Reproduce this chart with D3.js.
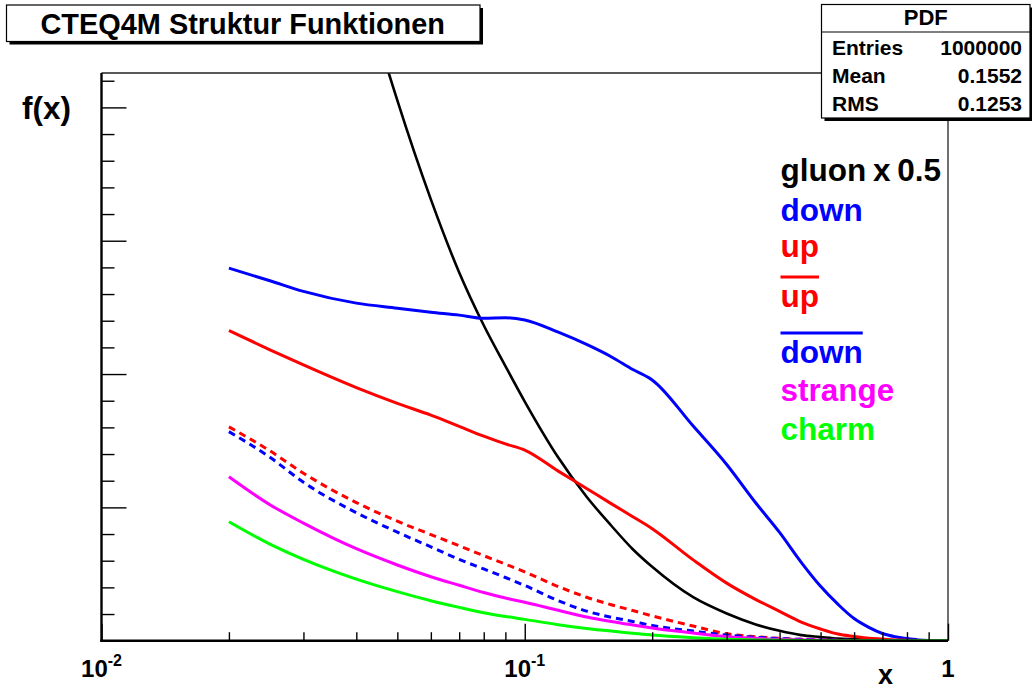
<!DOCTYPE html>
<html>
<head>
<meta charset="utf-8">
<script src="https://cdn.jsdelivr.net/npm/d3@7"></script>
<style>
  body { margin: 0; background: #fff; }
  svg { display: block; }
  text { font-family: "Liberation Sans", Arial, Helvetica, sans-serif; font-weight: bold; }
</style>
</head>
<body>
<svg id="chart" width="1032" height="688"></svg>
<script>
// Momentum fraction grid shared by all distributions
const xValues = [0.02, 0.025, 0.03, 0.04, 0.05, 0.06, 0.07, 0.08, 0.09, 0.1,
                 0.12, 0.14, 0.16, 0.18, 0.2, 0.25, 0.3, 0.35, 0.4, 0.45,
                 0.5, 0.55, 0.6, 0.65, 0.7, 0.75, 0.8, 0.85, 0.9, 0.95, 1.0];

// x*f(x) for each parton (gluon scaled by 0.5)
const gluonHalf = [4.89, 4.05, 3.43, 2.55, 2.026, 1.655, 1.381, 1.183, 1.030, 0.897,
                   0.687, 0.540, 0.432, 0.343, 0.277, 0.163, 0.102, 0.062, 0.037, 0.021,
                   0.014, 0.008, 0.006, 0.004, 0.002, 0.001, 0, 0, 0, 0, 0];
const down      = [1.397, 1.350, 1.310, 1.266, 1.247, 1.232, 1.221, 1.209, 1.211, 1.203,
                   1.157, 1.111, 1.065, 1.017, 0.978, 0.805, 0.661, 0.520, 0.406, 0.294,
                   0.204, 0.136, 0.083, 0.050, 0.027, 0.015, 0.008, 0.003, 0.001, 0.0005, 0];
const up        = [1.163, 1.091, 1.034, 0.949, 0.890, 0.846, 0.804, 0.767, 0.738, 0.715,
                   0.636, 0.571, 0.514, 0.465, 0.420, 0.303, 0.216, 0.156, 0.110, 0.070,
                   0.044, 0.025, 0.016, 0.009, 0.006, 0.003, 0.002, 0.001, 0, 0, 0];
const upBar     = [0.802, 0.712, 0.628, 0.518, 0.448, 0.398, 0.356, 0.319, 0.287, 0.258,
                   0.203, 0.163, 0.135, 0.113, 0.093, 0.055, 0.026, 0.015, 0.009, 0.005,
                   0.003, 0.002, 0.001, 0, 0, 0, 0, 0, 0, 0, 0];
const downBar   = [0.784, 0.688, 0.594, 0.480, 0.407, 0.352, 0.305, 0.269, 0.237, 0.207,
                   0.150, 0.111, 0.088, 0.072, 0.057, 0.036, 0.021, 0.013, 0.008, 0.005,
                   0.003, 0.002, 0.001, 0, 0, 0, 0, 0, 0, 0, 0];
const strange   = [0.615, 0.510, 0.441, 0.345, 0.284, 0.240, 0.208, 0.181, 0.160, 0.144,
                   0.114, 0.089, 0.072, 0.059, 0.048, 0.029, 0.015, 0.009, 0.005, 0.003,
                   0.002, 0.001, 0, 0, 0, 0, 0, 0, 0, 0, 0];
const charm     = [0.446, 0.362, 0.305, 0.231, 0.184, 0.150, 0.125, 0.105, 0.091, 0.080,
                   0.060, 0.046, 0.036, 0.028, 0.021, 0.011, 0.005, 0.003, 0.002, 0.001,
                   0, 0, 0, 0, 0, 0, 0, 0, 0, 0, 0];

const seriesNames    = ["gluon x 0.5", "down", "up", "up", "down", "strange", "charm"];
const seriesColors   = ["#000000", "#0000ff", "#ff0000", "#ff0000", "#0000ff", "#ff00ff", "#00ff00"];
const seriesDashed   = [false, false, false, true, true, false, false];
const seriesOverline = [false, false, false, true, true, false, false];

// Axis labels
const xTickValues = [0.01, 0.1, 1];
const xTickBase   = ["10", "10", "1"];
const xTickExp    = ["-2", "-1", ""];
const titleText   = "CTEQ4M Struktur Funktionen";
const yTitle      = "f(x)";
const xTitle      = "x";

// Statistics box
const statsTitle  = "PDF";
const statsLabels = ["Entries", "Mean", "RMS"];
const statsValues = ["1000000", "0.1552", "0.1253"];

const svg = d3.select("#chart");
const frame = { left: 101.5, right: 948, top: 73, bottom: 640.7 };

const x = d3.scaleLog().domain([0.01, 1]).range([frame.left, frame.right]);
const y = d3.scaleLinear().domain([0, 2.129]).range([frame.bottom, frame.top]);

svg.append("rect").attr("width", 1032).attr("height", 688).attr("fill", "#fff");

// Clip region for the curves
svg.append("clipPath").attr("id", "plotClip")
  .append("rect")
  .attr("x", frame.left).attr("y", frame.top)
  .attr("width", frame.right - frame.left).attr("height", frame.bottom - frame.top);

const series = [gluonHalf, down, up, upBar, downBar, strange, charm];
const lineGen = d3.line()
  .x((d, i) => x(xValues[i]))
  .y(d => y(d))
  .curve(d3.curveMonotoneX);

const curves = svg.append("g").attr("clip-path", "url(#plotClip)");
series.forEach((vals, k) => {
  curves.append("path")
    .attr("d", lineGen(vals))
    .attr("fill", "none")
    .attr("stroke", seriesColors[k])
    .attr("stroke-width", k === 0 ? 2.6 : 3)
    .attr("stroke-dasharray", seriesDashed[k] ? "7,5" : null)
    .attr("stroke-linejoin", "round");
});

// Frame: top and right edges
svg.append("line").attr("x1", frame.left).attr("x2", frame.right)
  .attr("y1", frame.top).attr("y2", frame.top)
  .attr("stroke", "#222").attr("stroke-width", 1.3);
svg.append("line").attr("x1", frame.right).attr("x2", frame.right)
  .attr("y1", frame.top).attr("y2", frame.bottom)
  .attr("stroke", "#222").attr("stroke-width", 1.3);

// x axis ticks (pointing into the frame)
const xMinor = [];
[0.01, 0.1].forEach(dec => { for (let m = 2; m <= 9; m++) xMinor.push(dec * m); });
const xAxisMinor = d3.axisBottom(x).tickValues(xMinor).tickSizeInner(-8.5).tickSizeOuter(0).tickFormat("");
const xAxisMajor = d3.axisBottom(x).tickValues(xTickValues).tickSizeInner(-17).tickSizeOuter(0).tickFormat("");
[xAxisMinor, xAxisMajor].forEach(ax => {
  const g = svg.append("g").attr("transform", `translate(0,${frame.bottom})`).call(ax);
  g.select(".domain").remove();
  g.selectAll(".tick line").attr("stroke", "#000").attr("stroke-width", 1.4);
});

// y axis ticks (pointing into the frame)
const yMinor = d3.range(1, 22).map(i => i * 0.1).filter(v => Math.abs(v * 2 - Math.round(v * 2)) > 1e-6);
const yMajor = [0.5, 1.0, 1.5, 2.0];
const yAxisMinor = d3.axisLeft(y).tickValues(yMinor).tickSizeInner(-13).tickSizeOuter(0).tickFormat("");
const yAxisMajor = d3.axisLeft(y).tickValues(yMajor).tickSizeInner(-25).tickSizeOuter(0).tickFormat("");
[yAxisMinor, yAxisMajor].forEach(ax => {
  const g = svg.append("g").attr("transform", `translate(${frame.left},0)`).call(ax);
  g.select(".domain").remove();
  g.selectAll(".tick line").attr("stroke", "#000").attr("stroke-width", 1.4);
});

// Axis lines
svg.append("line").attr("x1", frame.left).attr("x2", frame.left)
  .attr("y1", frame.top).attr("y2", frame.bottom + 1.2)
  .attr("stroke", "#000").attr("stroke-width", 2.4);
svg.append("line").attr("x1", frame.left - 1.2).attr("x2", frame.right)
  .attr("y1", frame.bottom).attr("y2", frame.bottom)
  .attr("stroke", "#000").attr("stroke-width", 2.4);

// x tick labels with exponents
xTickValues.forEach((v, i) => {
  const t = svg.append("text")
    .attr("x", x(v)).attr("y", 677)
    .attr("text-anchor", "middle")
    .attr("font-size", 24)
    .attr("fill", "#000");
  t.append("tspan").text(xTickBase[i]);
  if (xTickExp[i]) {
    t.append("tspan").attr("dy", -11).attr("font-size", 16).text(xTickExp[i]);
  }
});

// Axis titles
svg.append("text").attr("x", 878).attr("y", 683.5)
  .attr("font-size", 27).attr("fill", "#000").text(xTitle);
svg.append("text").attr("x", 22).attr("y", 119)
  .attr("font-size", 31.5).attr("fill", "#000").text(yTitle);

// Legend labels
const legendX = 780.5;
const legendBaselines = [181, 221, 257, 307, 363, 401, 440];
seriesNames.forEach((name, k) => {
  const t = svg.append("text")
    .attr("x", legendX).attr("y", legendBaselines[k])
    .attr("font-size", 31.5)
    .attr("word-spacing", -2)
    .attr("fill", seriesColors[k])
    .text(name);
  if (seriesOverline[k]) {
    const w = t.node().getComputedTextLength();
    svg.append("line")
      .attr("x1", legendX).attr("x2", legendX + w)
      .attr("y1", legendBaselines[k] - 30).attr("y2", legendBaselines[k] - 30)
      .attr("stroke", seriesColors[k]).attr("stroke-width", 2.8);
  }
});

// Title box with drop shadow
const tb = { x: 6.5, y: 5, w: 473.5, h: 36.5 };
svg.append("rect").attr("x", tb.x + 3).attr("y", tb.y + 3).attr("width", tb.w).attr("height", tb.h).attr("fill", "#000");
svg.append("rect").attr("x", tb.x).attr("y", tb.y).attr("width", tb.w).attr("height", tb.h)
  .attr("fill", "#fff").attr("stroke", "#000").attr("stroke-width", 1.2);
svg.append("text").attr("x", tb.x + tb.w / 2 - 0.5).attr("y", 33.5)
  .attr("text-anchor", "middle").attr("font-size", 28.9).attr("fill", "#000").text(titleText);

// Statistics box with drop shadow
const sb = { x: 821.5, y: 4.5, w: 208.5, h: 113.5 };
svg.append("rect").attr("x", sb.x + 3).attr("y", sb.y + 3).attr("width", sb.w).attr("height", sb.h).attr("fill", "#000");
svg.append("rect").attr("x", sb.x).attr("y", sb.y).attr("width", sb.w).attr("height", sb.h)
  .attr("fill", "#fff").attr("stroke", "#000").attr("stroke-width", 1.2);
svg.append("line").attr("x1", sb.x).attr("x2", sb.x + sb.w).attr("y1", 32).attr("y2", 32)
  .attr("stroke", "#000").attr("stroke-width", 1.2);
svg.append("text").attr("x", sb.x + sb.w / 2).attr("y", 25)
  .attr("text-anchor", "middle").attr("font-size", 22).attr("fill", "#000").text(statsTitle);
const rowBaselines = [54.5, 82.5, 110.5];
statsLabels.forEach((lab, i) => {
  svg.append("text").attr("x", 832).attr("y", rowBaselines[i])
    .attr("font-size", 21).attr("fill", "#000").text(lab);
  svg.append("text").attr("x", 1022).attr("y", rowBaselines[i])
    .attr("text-anchor", "end").attr("font-size", 21).attr("fill", "#000").text(statsValues[i]);
});
</script>
</body>
</html>
